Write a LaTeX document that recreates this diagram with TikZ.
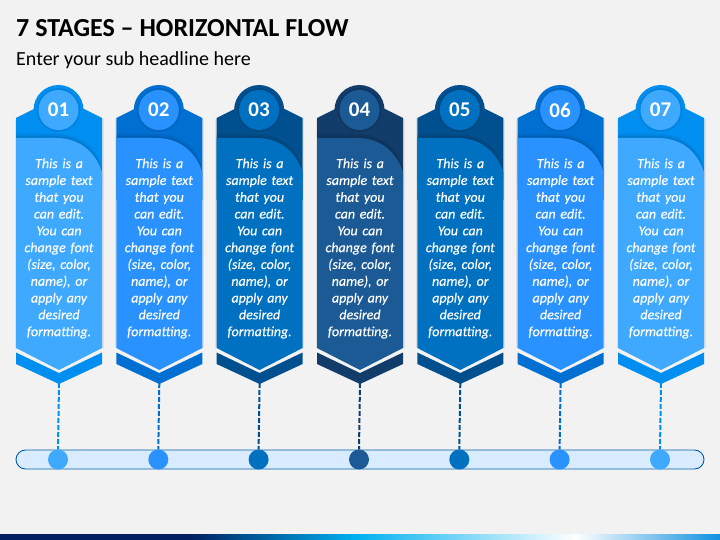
\documentclass[tikz,border=0pt]{standalone}
\usepackage{fontspec}
\setmainfont{Carlito}
\newfontfamily\blurbfont{Carlito}[ItalicFeatures={FakeBold=0.25}]
\definecolor{pagebg}{HTML}{F2F2F2}
\definecolor{darkA}{HTML}{008FF0}
\definecolor{lightA}{HTML}{3FA9FF}
\definecolor{darkB}{HTML}{006FD2}
\definecolor{lightB}{HTML}{2A92FF}
\definecolor{darkC}{HTML}{00508F}
\definecolor{lightC}{HTML}{0070C0}
\definecolor{darkD}{HTML}{123C69}
\definecolor{lightD}{HTML}{1C5A96}
\definecolor{barfill}{HTML}{D9ECFF}
\definecolor{barline}{HTML}{005FA8}
\definecolor{navy}{HTML}{002060}
\definecolor{sky}{HTML}{00B0F0}
\definecolor{ocean}{HTML}{1090E0}
\begin{document}
\begin{tikzpicture}[x=1pt,y=-1pt,
    halo/.style={circle,minimum size=50pt,inner sep=0pt},
    bullet/.style={circle,minimum size=40pt,inner sep=0pt,font=\fontsize{21}{21}\selectfont\bfseries,text=white},
    blurb/.style={text width=86pt,align=center,inner sep=0pt,text=white,font=\blurbfont\fontsize{14}{16.8}\selectfont\itshape},
    dot/.style={circle,minimum size=20pt,inner sep=0pt},
    stem/.style={line width=2pt,dash pattern=on 5pt off 2pt},
    soft/.style={black,opacity=0.07}]
    \useasboundingbox (0,0) rectangle (720,540);
    \fill[pagebg] (0,0) rectangle (720,540);
    \node[anchor=west,inner sep=0pt,font=\fontsize{26}{26}\selectfont\bfseries] (title) at (16,28) {7 STAGES – HORIZONTAL FLOW};
    \node[anchor=west,inner sep=0pt,font=\fontsize{20}{20}\selectfont] (subtitle) at (16,60) {Enter your sub headline here};
    % bottom strip
    \fill[navy] (0,534) rectangle (190.5,540);
    \shade[left color=navy,right color=sky] (190,534) rectangle (355.5,540);
    \shade[left color=sky,right color=white] (355,534) rectangle (575.5,540);
    \shade[left color=white,right color=ocean] (575,534) rectangle (720,540);
    % bar
    \node[draw=barline,fill=barfill,line width=0.9pt,rounded corners=9.5pt,minimum width=688pt,minimum height=19pt,inner sep=0pt] (bar) at (360,459.5) {};
    % stages
    \foreach \n/\cx/\dark/\light in {1/59/darkA/lightA,2/159.3/darkB/lightB,3/259.6/darkC/lightC,4/360/darkD/lightD,5/460.3/darkC/lightC,6/560.6/darkB/lightB,7/661/darkA/lightA}{
        \begin{scope}[shift={(\cx,0)}]
            \fill[soft] (-44.5,119) rectangle (-43,348);
            \fill[soft] (43,119) rectangle (44.5,348);
            \fill[\dark] (-43,118) -- (-24,108.5) -- (24,108.5) -- (43,118) -- (43,200) -- (-43,200) -- cycle;
            \node[halo,fill=\dark] (halo\n) at (-0.5,110) {};
            \fill[soft] (-0.5,110) circle[radius=22];
            % body
            \fill[soft] (-43,134) -- (-5,134) .. controls (22,134) and (38,148) .. (43,168) -- (43,180) -- (-43,180) -- cycle;
            \fill[soft] (-43,136) -- (-5,136) .. controls (21,136) and (37,150) .. (43,170) -- (43,180) -- (-43,180) -- cycle;
            \fill[\light] (-43,138) -- (-3,138) .. controls (20,138) and (36,151) .. (43,172) -- (43,348) -- (0,370) -- (-43,348) -- cycle;
            \fill[\dark] (-43,352.5) -- (0,373) -- (43,352.5) -- (43,364) -- (0,384) -- (-43,364) -- cycle;
            \coordinate (tip\n) at (0,383);
            \node[bullet,fill=\light] (num\n) at (-0.5,110) {0\n};
            \node[blurb] (text\n) at (0,248.5) {This is a\\sample text\\that you\\can edit.\\You can\\change font\\(size, color,\\name), or\\apply any\\desired\\formatting.};
            \node[dot,fill=\light] (dot\n) at (-1,459.5) {};
        \end{scope}
        \draw[stem,\dark] (tip\n) -- (dot\n.north);
    }
\end{tikzpicture}
\end{document}
